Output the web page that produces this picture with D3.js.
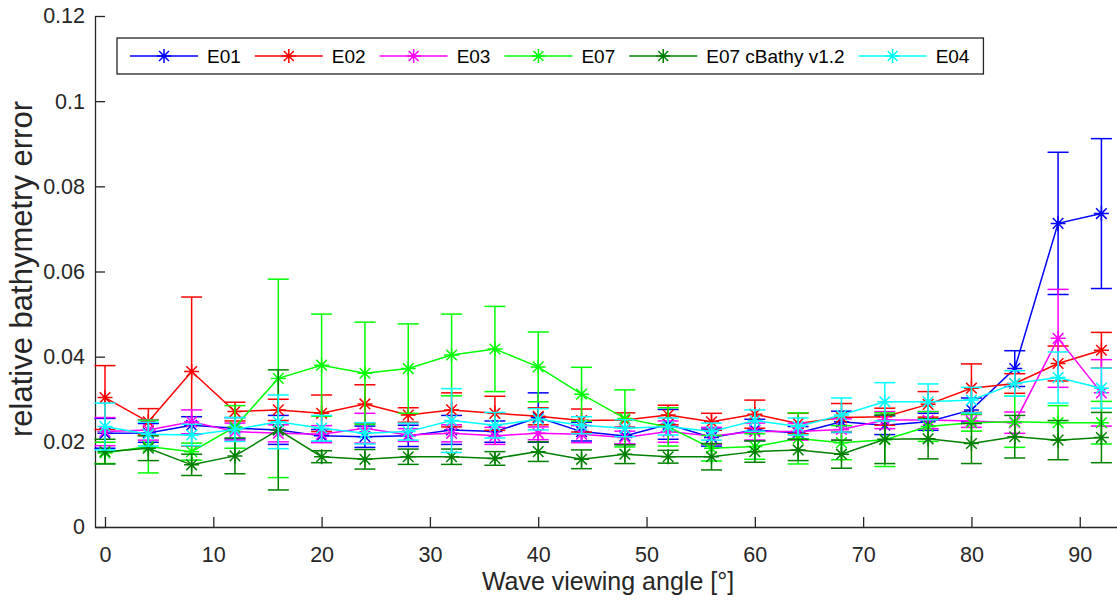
<!DOCTYPE html>
<html><head><meta charset="utf-8">
<script src="https://cdn.jsdelivr.net/npm/d3@7"></script>
<style>
body{margin:0;background:#fff;}
svg{display:block;font-family:"Liberation Sans",Arial,Helvetica,sans-serif;}
</style></head>
<body><svg id="c" width="1117" height="601"></svg>
<script>
const angles = [0,4,8,12,16,20,24,28,32,36,40,44,48,52,56,60,64,68,72,76,80,84,88,92];
const seriesNames = ["E01","E02","E03","E07","E07 cBathy v1.2","E04"];
const seriesColors = ["#0000ff","#ff0000","#ff00ff","#00ff00","#008000","#00ffff"];

const e01Mean = [0.0220,0.0221,0.0239,0.0232,0.0228,0.0214,0.0212,0.0214,0.0228,0.0224,0.0257,0.0224,0.0214,0.0241,0.0210,0.0228,0.0221,0.0247,0.0239,0.0247,0.0275,0.0372,0.0713,0.0736];
const e01Err  = [0.0035,0.0022,0.0020,0.0025,0.0034,0.0015,0.0025,0.0025,0.0034,0.0025,0.0058,0.0022,0.0020,0.0035,0.0020,0.0025,0.0015,0.0025,0.0022,0.0020,0.0028,0.0042,0.0167,0.0176];

const e02Mean = [0.0304,0.0247,0.0365,0.0271,0.0275,0.0267,0.0289,0.0263,0.0275,0.0267,0.0260,0.0250,0.0251,0.0263,0.0247,0.0265,0.0243,0.0257,0.0259,0.0288,0.0326,0.0337,0.0384,0.0415];
const e02Err  = [0.0075,0.0031,0.0175,0.0022,0.0025,0.0043,0.0045,0.0017,0.0040,0.0040,0.0020,0.0027,0.0017,0.0023,0.0020,0.0033,0.0024,0.0033,0.0020,0.0030,0.0057,0.0023,0.0041,0.0042];

const e03Mean = [0.0224,0.0228,0.0247,0.0224,0.0220,0.0218,0.0232,0.0216,0.0220,0.0214,0.0220,0.0218,0.0210,0.0224,0.0214,0.0224,0.0224,0.0229,0.0251,0.0251,0.0249,0.0245,0.0443,0.0315];
const e03Err  = [0.0033,0.0024,0.0028,0.0020,0.0020,0.0020,0.0035,0.0015,0.0020,0.0020,0.0015,0.0020,0.0015,0.0025,0.0020,0.0020,0.0020,0.0025,0.0020,0.0020,0.0015,0.0025,0.0115,0.0078];

const e07Mean = [0.0174,0.0189,0.0177,0.0235,0.0349,0.0380,0.0361,0.0372,0.0404,0.0418,0.0376,0.0312,0.0255,0.0235,0.0185,0.0189,0.0208,0.0198,0.0205,0.0236,0.0245,0.0247,0.0245,0.0245];
const e07Err  = [0.0025,0.0062,0.0020,0.0050,0.0233,0.0120,0.0120,0.0105,0.0096,0.0100,0.0082,0.0063,0.0067,0.0045,0.0030,0.0030,0.0060,0.0040,0.0063,0.0035,0.0020,0.0060,0.0040,0.0050];

const e07cMean = [0.0177,0.0185,0.0146,0.0167,0.0228,0.0165,0.0159,0.0165,0.0165,0.0161,0.0177,0.0159,0.0171,0.0165,0.0165,0.0177,0.0181,0.0171,0.0206,0.0207,0.0196,0.0212,0.0204,0.0210];
const e07cErr  = [0.0029,0.0029,0.0025,0.0042,0.0141,0.0014,0.0023,0.0018,0.0018,0.0016,0.0023,0.0022,0.0022,0.0015,0.0031,0.0025,0.0025,0.0033,0.0057,0.0047,0.0047,0.0050,0.0046,0.0059];

const e04Mean = [0.0236,0.0218,0.0216,0.0229,0.0247,0.0232,0.0220,0.0224,0.0250,0.0239,0.0253,0.0239,0.0232,0.0236,0.0224,0.0250,0.0236,0.0263,0.0294,0.0294,0.0298,0.0337,0.0351,0.0326];
const e04Err  = [0.0055,0.0028,0.0025,0.0028,0.0063,0.0030,0.0025,0.0020,0.0075,0.0030,0.0025,0.0020,0.0020,0.0020,0.0020,0.0025,0.0020,0.0040,0.0045,0.0042,0.0030,0.0030,0.0060,0.0047];

const xTicks = [0,10,20,30,40,50,60,70,80,90];
const yTicks = [0,0.02,0.04,0.06,0.08,0.1,0.12];
const yTickLabels = ["0","0.02","0.04","0.06","0.08","0.1","0.12"];
const xLabel = "Wave viewing angle [°]";
const yLabel = "relative bathymetry error";

const means = [e01Mean,e02Mean,e03Mean,e07Mean,e07cMean,e04Mean];
const errs = [e01Err,e02Err,e03Err,e07Err,e07cErr,e04Err];

const axisColor = "#262626";
const svg = d3.select("#c");
const L = 95, R = 1117, T = 16, B = 527;
const x = d3.scaleLinear().domain([-0.923, 93.44]).range([L, R]);
const y = d3.scaleLinear().domain([0, 0.12]).range([B, T]);

// axes
const gx = svg.append("g").attr("transform", `translate(0,${B})`)
  .call(d3.axisBottom(x).tickValues(xTicks).tickFormat(d3.format("d")).tickSizeInner(-10).tickSizeOuter(0).tickPadding(20));
const gy = svg.append("g").attr("transform", `translate(${L},0)`)
  .call(d3.axisLeft(y).tickValues(yTicks).tickFormat((d,i)=>yTickLabels[i]).tickSizeInner(-10).tickSizeOuter(0).tickPadding(10));
[gx, gy].forEach(g => {
  g.select(".domain").attr("stroke", axisColor).attr("stroke-width", 1.3);
  g.selectAll(".tick line").attr("stroke", axisColor).attr("stroke-width", 1.3);
  g.selectAll(".tick text").attr("fill", axisColor).style("font-size", "21.5px");
});

svg.append("text").attr("x", 608).attr("y", 590).attr("text-anchor", "middle")
  .attr("fill", axisColor).style("font-size", "25px").text(xLabel);
svg.append("text").attr("transform", "translate(32,269) rotate(-90)").attr("text-anchor", "middle")
  .attr("fill", axisColor).style("font-size", "31px").text(yLabel);

function asterisk(r) {
  const d = r * 0.707;
  return `M0,${-r}L0,${r}M${-r},0L${r},0M${-d},${-d}L${d},${d}M${-d},${d}L${d},${-d}`;
}

const plot = svg.append("g");
const line = d3.line().x(d => x(d.a)).y(d => y(d.m));
const cap = 10.5;
seriesNames.forEach((name, si) => {
  const col = seriesColors[si];
  const data = angles.map((a, i) => ({a, m: means[si][i], e: errs[si][i]}));
  const g = plot.append("g");
  g.append("path").datum(data).attr("d", line).attr("fill", "none")
    .attr("stroke", col).attr("stroke-width", 1.5);
  const eb = g.selectAll(".eb").data(data).enter().append("g");
  eb.append("line").attr("x1", d => x(d.a)).attr("x2", d => x(d.a))
    .attr("y1", d => y(d.m - d.e)).attr("y2", d => y(d.m + d.e))
    .attr("stroke", col).attr("stroke-width", 1.5);
  eb.append("line").attr("x1", d => x(d.a) - cap).attr("x2", d => x(d.a) + cap)
    .attr("y1", d => y(d.m + d.e)).attr("y2", d => y(d.m + d.e))
    .attr("stroke", col).attr("stroke-width", 1.5);
  eb.append("line").attr("x1", d => x(d.a) - cap).attr("x2", d => x(d.a) + cap)
    .attr("y1", d => y(d.m - d.e)).attr("y2", d => y(d.m - d.e))
    .attr("stroke", col).attr("stroke-width", 1.5);
  g.selectAll(".mk").data(data).enter().append("path")
    .attr("transform", d => `translate(${x(d.a)},${y(d.m)})`)
    .attr("d", asterisk(7.5)).attr("fill", "none").attr("stroke", col).attr("stroke-width", 1.5);
});

// legend
const lg = svg.append("g");
const box = lg.append("rect").attr("x", 117).attr("y", 38).attr("height", 36)
  .attr("fill", "#fff").attr("stroke", axisColor).attr("stroke-width", 1.3);
let cx = 130;
const ly = 56;
seriesNames.forEach((name, si) => {
  const col = seriesColors[si];
  lg.append("line").attr("x1", cx).attr("x2", cx + 68).attr("y1", ly).attr("y2", ly)
    .attr("stroke", col).attr("stroke-width", 1.5);
  lg.append("path").attr("transform", `translate(${cx + 34},${ly})`).attr("d", asterisk(7))
    .attr("fill", "none").attr("stroke", col).attr("stroke-width", 1.5);
  const t = lg.append("text").attr("x", cx + 77).attr("y", ly).attr("dy", "0.35em")
    .style("font-size", "19px").attr("fill", "#000").text(name);
  const w = t.node().getComputedTextLength();
  cx = cx + 77 + w + 14;
});
box.attr("width", cx - 117);
</script></body></html>
